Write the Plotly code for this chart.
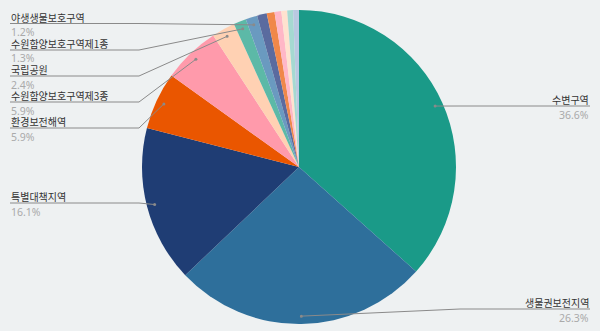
import math
import plotly.graph_objects as go

# ---- data ----
names = ["수변구역", "생물권보전지역", "특별대책지역", "환경보전해역", "수원함양보호구역제3종",
         "국립공원", "수원함양보호구역제1종", "야생생물보호구역",
         "백두대간보호지역", "습지보호지역", "수원함양보호구역제2종", "생태경관보전지역",
         "특정도서", "시도생태경관보전지역"]
values = [36.6, 26.3, 16.1, 5.9, 5.9, 2.4, 1.3, 1.2, 1.0, 0.8, 0.7, 0.6, 0.6, 0.6]
colors = ["#1a9a88", "#2e6f9b", "#1f3d74", "#ea5600", "#ff9aab", "#ffd1b3", "#5cb9a7",
          "#6a9ac0", "#5a6b9f", "#f0884a", "#ffb7c7", "#ffe2cf", "#a5d9d1", "#b9c9e1"]

# labels shown (index -> side, row y of line)
label_layout = {
    7: ("left", 23.5),
    6: ("left", 50),
    5: ("left", 76),
    4: ("left", 102),
    3: ("left", 128),
    2: ("left", 203),
    0: ("right", 106),
    1: ("right", 309),
}

W, H = 600, 331
CX, CY, R = 299, 167, 157
BG = "#eef1f2"

def px(x):
    return x / W

def py(y):
    return 1 - y / H

fig = go.Figure(go.Pie(
    labels=names, values=values, sort=False, direction="clockwise", rotation=0,
    marker=dict(colors=colors, line=dict(width=0)),
    textinfo="none", hoverinfo="label+percent",
    domain=dict(x=[px(CX - R), px(CX + R)], y=[py(CY + R), py(CY - R)]),
    showlegend=False,
))

total = sum(values)
shapes = []
annotations = []
cum = 0.0
mids = []
for v in values:
    mids.append((cum + v / 2) / total)
    cum += v

for i, (side, ly) in label_layout.items():
    ang = mids[i] * 2 * math.pi
    rd = R * 0.95
    dx = CX + rd * math.sin(ang)
    dy = CY - rd * math.cos(ang)
    if side == "left":
        x0, xe = 10, 139
        anchor = "left"
    else:
        x0, xe = 590, 460
        anchor = "right"
    path = f"M {px(x0)} {py(ly)} L {px(xe)} {py(ly)} L {px(dx)} {py(dy)}"
    shapes.append(dict(type="path", path=path, xref="paper", yref="paper",
                       line=dict(color="#8a8a8a", width=1)))
    shapes.append(dict(type="circle", xref="paper", yref="paper",
                       x0=px(dx - 1.5), x1=px(dx + 1.5), y0=py(dy + 1.5), y1=py(dy - 1.5),
                       fillcolor="#8a8a8a", line=dict(width=0)))
    pct = f"{values[i] / total * 100:.1f}%"
    annotations.append(dict(x=px(x0), y=py(ly - 6.5), xref="paper", yref="paper",
                            text=names[i], showarrow=False, xanchor=anchor, yanchor="middle",
                            borderpad=0, height=11,
                            font=dict(size=10, color="#333333", family="Noto Sans CJK KR")))
    annotations.append(dict(x=px(x0), y=py(ly + 8), xref="paper", yref="paper",
                            text=pct, showarrow=False, xanchor=anchor, yanchor="middle",
                            borderpad=0, height=11,
                            font=dict(size=10.5, color="#aaaaaa", family="Noto Sans")))

fig.update_layout(
    width=W, height=H, margin=dict(l=0, r=0, t=0, b=0),
    paper_bgcolor=BG, plot_bgcolor=BG,
    shapes=shapes, annotations=annotations,
    font=dict(family="Noto Sans CJK KR"),
)
fig.write_html("out.html")
